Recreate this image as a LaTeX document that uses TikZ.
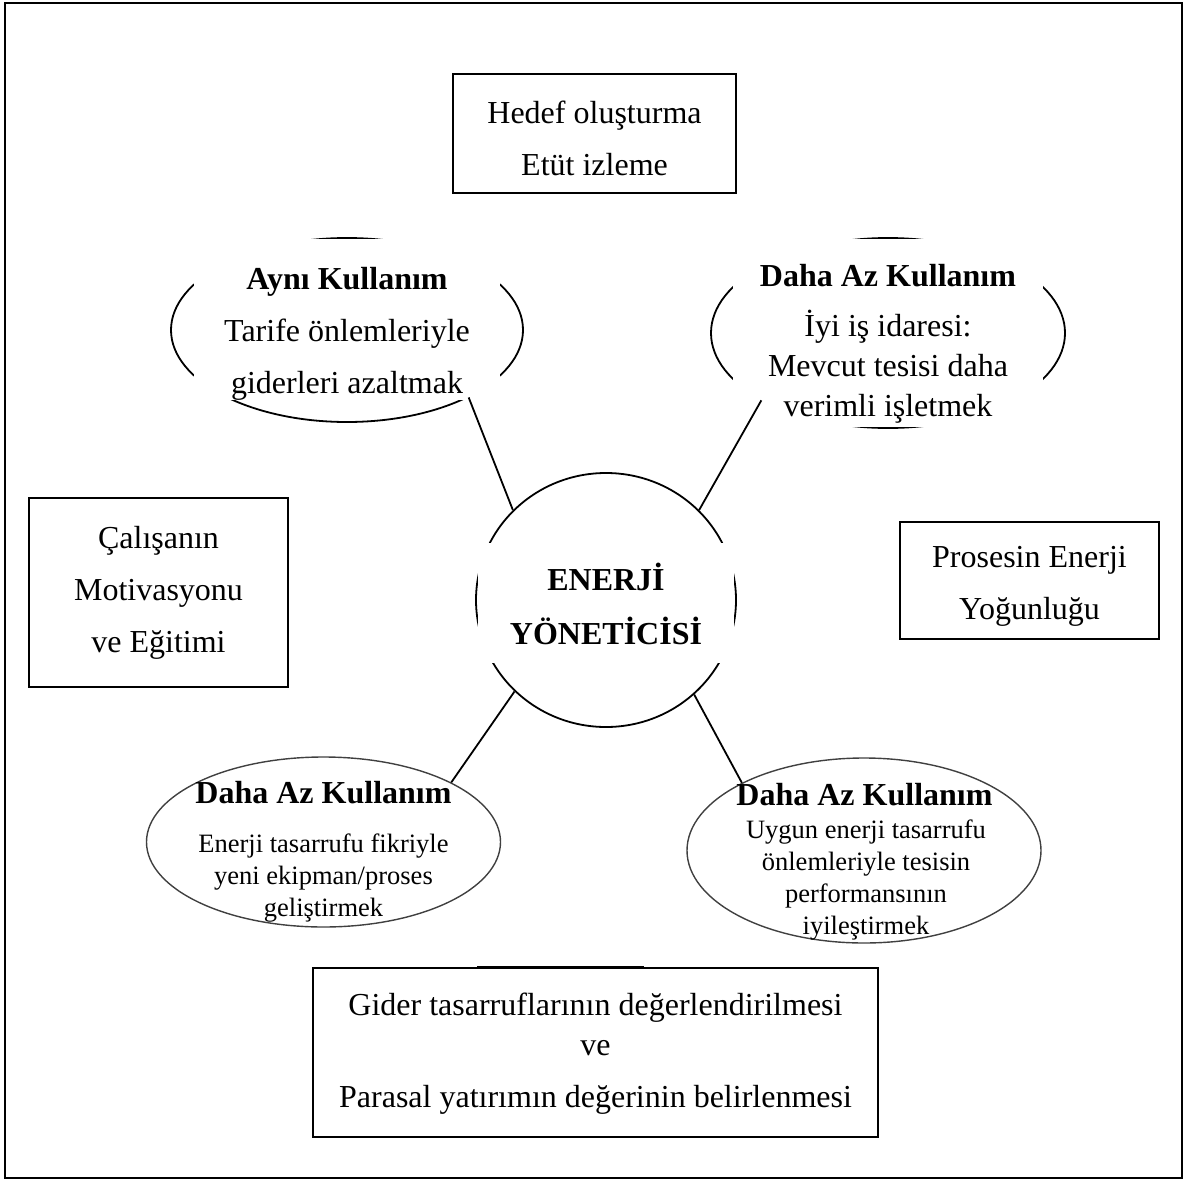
\documentclass[tikz,border=0pt]{standalone}
\usepackage{fontspec}
\setmainfont{Liberation Serif}
\usetikzlibrary{shapes.geometric}
\begin{document}
\begin{tikzpicture}[x=1pt,y=-1pt,
  box/.style={draw, line width=1.8, inner sep=0pt},
  oval/.style={ellipse, draw, line width=1.8, inner sep=0pt},
  softoval/.style={ellipse, draw=black!75, line width=1.4, inner sep=0pt},
  frame/.style={fill=white, inner sep=0pt},
  txt/.style={align=center, inner sep=0pt, font=\fontsize{32}{52}\selectfont},
  small/.style={align=center, inner sep=0pt, font=\fontsize{26.5}{32.3}\selectfont},
  link/.style={line width=1.8}]
\useasboundingbox (0,0) rectangle (1188,1180);
\draw[line width=2.2] (5,3) rectangle (1182,1178);

% rectangular boxes
\node[box, minimum width=283, minimum height=119] (goal) at (594.5,133.5) {};
\node[txt] (goalt) at (594.5,138) {Hedef oluşturma\\Etüt izleme};
\node[box, minimum width=259, minimum height=189] (staff) at (158.5,592.5) {};
\node[txt] (stafft) at (158.5,592.5) {Çalışanın\\Motivasyonu\\ve Eğitimi};
\node[box, minimum width=259, minimum height=117] (proc) at (1029.5,580.5) {};
\node[txt] (proct) at (1029.5,586) {Prosesin Enerji\\Yoğunluğu};
\node[box, minimum width=565, minimum height=169] (cost) at (595.5,1052.5) {};
\node[txt] (costt) at (595.5,1054) {Gider tasarruflarının değerlendirilmesi\\[-12pt]ve\\Parasal yatırımın değerinin belirlenmesi};
\draw[line width=2.8] ([xshift=165pt]cost.north west) -- ([xshift=332pt]cost.north west);

% central circle
\node[oval, minimum width=260, minimum height=254] (mgr) at (606,600) {};
\node[frame, minimum width=256, minimum height=120] (mgrf) at (606,603) {};
\node[txt, font=\fontsize{32}{54}\selectfont\bfseries] (mgrt) at (606,604) {ENERJİ\\YÖNETİCİSİ};

% top-left ellipse
\node[oval, minimum width=352, minimum height=184] (same) at (347,330) {};
\node[frame, minimum width=306, minimum height=161] (samef) at (347,319.5) {};
\begin{scope}
\clip (samef.south west) rectangle (samef.north east);
\node[txt] (samet) at (347,334) {\textbf{Aynı Kullanım}\\Tarife önlemleriyle\\giderleri azaltmak};
\end{scope}

% top-right ellipse
\node[oval, minimum width=354, minimum height=190] (less) at (888,333) {};
\node[frame, minimum width=310, minimum height=188] (lessf) at (888,333) {};
\node[txt, font=\fontsize{32}{40}\selectfont] (lesst) at (888,344) {\textbf{Daha Az Kullanım}\\[10pt]İyi iş idaresi:\\Mevcut tesisi daha\\verimli işletmek};

% bottom-left ellipse
\node[softoval, minimum width=354, minimum height=170] (newp) at (323.5,842) {};
\node[txt] (newph) at (323.5,793) {\textbf{Daha Az Kullanım}};
\node[small] (newpt) at (323.5,878) {Enerji tasarrufu fikriyle\\yeni ekipman/proses\\geliştirmek};

% bottom-right ellipse
\node[softoval, minimum width=354, minimum height=185] (perf) at (864,850.5) {};
\node[txt] (perfh) at (864.5,795) {\textbf{Daha Az Kullanım}};
\node[small] (perft) at (866,880) {Uygun enerji tasarrufu\\önlemleriyle tesisin\\performansının\\iyileştirmek};

% connectors
\draw[link] (mgr.136.6) -- (same.-29.5);
\draw[link] (mgr.44.4) -- (less.208);
\draw[link] (mgr.225.6) -- (newp.25);
\draw[link] (mgr.313.5) -- (perf.151.1);
\end{tikzpicture}
\end{document}
